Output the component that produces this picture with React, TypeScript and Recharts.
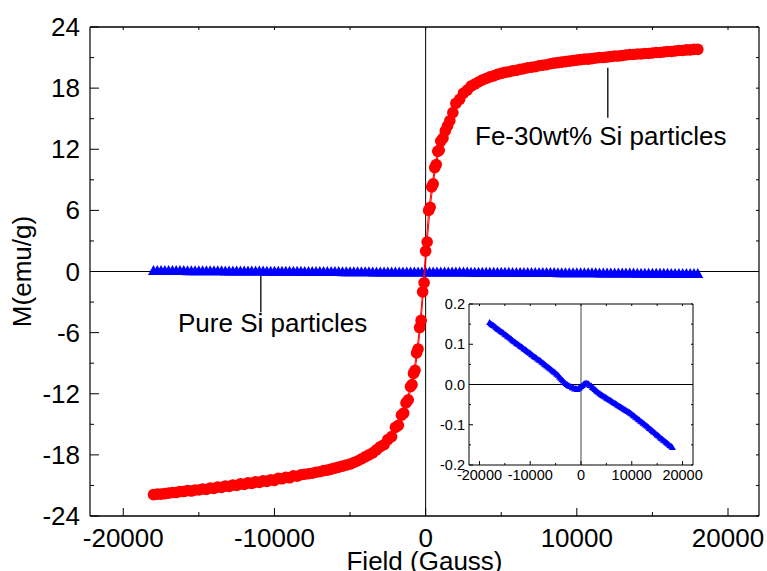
import { ReferenceLine, Scatter, ScatterChart, XAxis, YAxis } from "recharts";

const FONT = '"Liberation Sans", Arial, sans-serif';

// Fe-30wt% Si : descending branch (+18 kG -> -18 kG)
const fieldDown = [
  18000, 17500, 17000, 16500, 16000, 15500, 15000, 14500, 14000, 13500, 13000,
  12500, 12000, 11500, 11000, 10500, 10000, 9500, 9000, 8500, 8000, 7500, 7000,
  6500, 6000, 5500, 5000, 4500, 4000, 3500, 3000, 2500, 2000, 1600, 1300, 1000,
  800, 600, 400, 200, 0, -200, -400, -600, -800, -1000, -1300, -1600, -2000,
  -2500, -3000, -3500, -4000, -4500, -5000, -5500, -6000, -6500, -7000, -7500,
  -8000, -8500, -9000, -9500, -10000, -10500, -11000, -11500, -12000, -12500,
  -13000, -13500, -14000, -14500, -15000, -15500, -16000, -16500, -17000,
  -17500, -18000,
];
const momentDown = [
  21.8, 21.75, 21.7, 21.65, 21.6, 21.5, 21.45, 21.4, 21.35, 21.3, 21.2, 21.15,
  21.05, 21.0, 20.9, 20.85, 20.75, 20.65, 20.55, 20.45, 20.3, 20.2, 20.05, 19.9,
  19.75, 19.6, 19.45, 19.2, 18.95, 18.6, 18.2, 17.5, 16.5, 14.8, 13.8, 12.8,
  11.8, 10.2, 8.3, 6.0, 2.0, -2.0, -5.5, -8.0, -10.0, -11.3, -12.9, -14.1,
  -15.3, -16.5, -17.2, -17.8, -18.2, -18.6, -18.9, -19.1, -19.3, -19.5, -19.65,
  -19.8, -19.9, -20.1, -20.25, -20.35, -20.5, -20.6, -20.7, -20.8, -20.9, -21.0,
  -21.1, -21.2, -21.3, -21.4, -21.45, -21.55, -21.6, -21.7, -21.75, -21.85,
  -21.9,
];

// Fe-30wt% Si : ascending branch (-18 kG -> +18 kG)
const fieldUp = [
  -17750, -17250, -16750, -16250, -15750, -15250, -14750, -14250, -13750,
  -13250, -12750, -12250, -11750, -11250, -10750, -10250, -9750, -9250, -8750,
  -8250, -7750, -7250, -6750, -6250, -5750, -5250, -4750, -4250, -3750, -3250,
  -2750, -2250, -1800, -1450, -1150, -900, -700, -500, -300, -100, 100, 300,
  500, 700, 900, 1150, 1450, 1800, 2250, 2750, 3250, 3750, 4250, 4750, 5250,
  5750, 6250, 6750, 7250, 7750, 8250, 8750, 9250, 9750, 10250, 10750, 11250,
  11750, 12250, 12750, 13250, 13750, 14250, 14750, 15250, 15750, 16250, 16750,
  17250, 17750,
];
const momentUp = [
  -21.85, -21.8, -21.7, -21.6, -21.5, -21.45, -21.35, -21.25, -21.15, -21.05,
  -20.95, -20.85, -20.75, -20.65, -20.55, -20.45, -20.3, -20.2, -20.05, -19.95,
  -19.85, -19.7, -19.55, -19.4, -19.2, -19.0, -18.75, -18.4, -18.0, -17.5,
  -17.0, -16.2, -15.1, -13.9, -12.6, -11.1, -9.7, -7.6, -4.8, -1.1, 2.9, 6.3,
  8.6, 10.5, 11.9, 13.1, 14.3, 15.6, 16.9, 17.8, 18.4, 18.8, 19.1, 19.35, 19.55,
  19.7, 19.85, 20.0, 20.1, 20.25, 20.4, 20.5, 20.6, 20.7, 20.8, 20.85, 20.95,
  21.0, 21.1, 21.15, 21.25, 21.3, 21.35, 21.4, 21.5, 21.55, 21.6, 21.7, 21.75,
  21.8,
];

// Pure Si particles, first sweep
const fieldSi = [
  -18000, -17500, -17000, -16500, -16000, -15500, -15000, -14500, -14000,
  -13500, -13000, -12500, -12000, -11500, -11000, -10500, -10000, -9500, -9000,
  -8500, -8000, -7500, -7000, -6500, -6000, -5500, -5000, -4500, -4000, -3500,
  -3000, -2500, -2000, -1500, -1000, -500, 0, 500, 1000, 1500, 2000, 2500, 3000,
  3500, 4000, 4500, 5000, 5500, 6000, 6500, 7000, 7500, 8000, 8500, 9000, 9500,
  10000, 10500, 11000, 11500, 12000, 12500, 13000, 13500, 14000, 14500, 15000,
  15500, 16000, 16500, 17000, 17500, 18000,
];
const momentSi = [
  0.155, 0.15, 0.146, 0.14, 0.136, 0.131, 0.126, 0.121, 0.117, 0.111, 0.107,
  0.102, 0.097, 0.093, 0.088, 0.083, 0.079, 0.074, 0.069, 0.064, 0.06, 0.055,
  0.05, 0.045, 0.04, 0.034, 0.03, 0.024, 0.017, 0.01, 0.004, -0.001, -0.004,
  -0.007, -0.008, -0.008, -0.004, 0.002, 0.005, 0.003, -0.002, -0.008, -0.014,
  -0.019, -0.024, -0.028, -0.032, -0.036, -0.04, -0.044, -0.048, -0.052,
  -0.056, -0.06, -0.064, -0.068, -0.072, -0.077, -0.082, -0.087, -0.092,
  -0.097, -0.102, -0.108, -0.113, -0.118, -0.124, -0.129, -0.134, -0.139,
  -0.145, -0.15, -0.155,
];

// Pure Si particles, return sweep
const fieldSi2 = [
  -17750, -17250, -16750, -16250, -15750, -15250, -14750, -14250, -13750,
  -13250, -12750, -12250, -11750, -11250, -10750, -10250, -9750, -9250, -8750,
  -8250, -7750, -7250, -6750, -6250, -5750, -5250, -4750, -4250, -3750, -3250,
  -2750, -2250, -1750, -1250, -750, -250, 250, 750, 1250, 1750, 2250, 2750,
  3250, 3750, 4250, 4750, 5250, 5750, 6250, 6750, 7250, 7750, 8250, 8750, 9250,
  9750, 10250, 10750, 11250, 11750, 12250, 12750, 13250, 13750, 14250, 14750,
  15250, 15750, 16250, 16750, 17250, 17750,
];
const momentSi2 = [
  0.152, 0.148, 0.143, 0.138, 0.133, 0.129, 0.124, 0.119, 0.114, 0.109, 0.104,
  0.1, 0.095, 0.09, 0.086, 0.081, 0.076, 0.071, 0.067, 0.062, 0.057, 0.052,
  0.047, 0.042, 0.037, 0.032, 0.027, 0.02, 0.013, 0.006, 0.001, -0.003, -0.007,
  -0.01, -0.011, -0.007, -0.001, 0.004, 0.003, -0.001, -0.006, -0.011, -0.017,
  -0.022, -0.026, -0.03, -0.034, -0.038, -0.042, -0.046, -0.05, -0.054, -0.058,
  -0.062, -0.066, -0.07, -0.075, -0.08, -0.085, -0.09, -0.095, -0.1, -0.105,
  -0.11, -0.116, -0.121, -0.126, -0.132, -0.137, -0.142, -0.147, -0.152,
];

const xTicks = [-20000, -15000, -10000, -5000, 0, 5000, 10000, 15000, 20000];
const xLabels = [-20000, -10000, 0, 10000, 20000];
const yTicks = [-24, -21, -18, -15, -12, -9, -6, -3, 0, 3, 6, 9, 12, 15, 18, 21, 24];
const yLabels = [-24, -18, -12, -6, 0, 6, 12, 18, 24];
const insetYTicks = [-0.2, -0.15, -0.1, -0.05, 0, 0.05, 0.1, 0.15, 0.2];
const insetYLabels = [-0.2, -0.1, 0, 0.1, 0.2];

const feLoop = [
  ...fieldDown.map((h, i) => ({ h, m: momentDown[i] })),
  ...fieldUp.map((h, i) => ({ h, m: momentUp[i] })),
];
const siData = [
  ...fieldSi.map((h, i) => ({ h, m: momentSi[i] })),
  ...fieldSi2.map((h, i) => ({ h, m: momentSi2[i] })),
];

// main plot box
const W = 767;
const H = 571;
const PL = 90;
const PR = 759;
const PT = 27;
const PB = 516;
const X_DOM: [number, number] = [-22200, 22050];

// inset box (local coords)
const IL = 39;
const IR = 263;
const IT = 14;
const IB = 175;
const IX_DOM: [number, number] = [-22060, 22060];

const MainXTick = (props: any) => {
  const { x, payload } = props;
  const v = payload.value;
  const major = xLabels.includes(v);
  return (
    <g>
      <line x1={x} x2={x} y1={PB} y2={PB - (major ? 8 : 4)} stroke="#000" />
      <line x1={x} x2={x} y1={PT} y2={PT + 3} stroke="#000" />
      {major && (
        <text x={x} y={547} textAnchor="middle" fontSize={26} fontFamily={FONT} fill="#000">
          {String(v)}
        </text>
      )}
    </g>
  );
};

const MainYTick = (props: any) => {
  const { y, payload } = props;
  const v = payload.value;
  const major = yLabels.includes(v);
  return (
    <g>
      <line x1={PL} x2={PL + (major ? 9 : 4)} y1={y} y2={y} stroke="#000" />
      <line x1={PR} x2={PR - 3} y1={y} y2={y} stroke="#000" />
      {major && (
        <text x={80} y={y + 9} textAnchor="end" fontSize={26} fontFamily={FONT} fill="#000">
          {String(v)}
        </text>
      )}
    </g>
  );
};

const InsetXTick = (props: any) => {
  const { x, payload } = props;
  const v = payload.value;
  const major = xLabels.includes(v);
  return (
    <g>
      <line x1={x} x2={x} y1={IB} y2={IB - (major ? 4 : 2)} stroke="#000" />
      <line x1={x} x2={x} y1={IT} y2={IT + 2} stroke="#000" />
      {major && (
        <text x={x} y={190} textAnchor="middle" fontSize={14.5} fontFamily={FONT} fill="#000">
          {String(v)}
        </text>
      )}
    </g>
  );
};

const InsetYTick = (props: any) => {
  const { y, payload } = props;
  const v = payload.value;
  const major = insetYLabels.includes(v);
  return (
    <g>
      <line x1={IL} x2={IL + (major ? 4 : 2)} y1={y} y2={y} stroke="#000" />
      <line x1={IR} x2={IR - 2} y1={y} y2={y} stroke="#000" />
      {major && (
        <text x={35} y={y + 5} textAnchor="end" fontSize={14.5} fontFamily={FONT} fill="#000">
          {v.toFixed(1)}
        </text>
      )}
    </g>
  );
};

const RedDot = (props: any) => <circle cx={props.cx} cy={props.cy} r={5.8} fill="#ff0000" />;

const BlueTri = (w: number, h: number) => (props: any) => {
  const { cx, cy } = props;
  return (
    <polygon
      points={`${cx},${cy - h / 2} ${cx + w / 2},${cy + h / 2} ${cx - w / 2},${cy + h / 2}`}
      fill="#0000ff"
    />
  );
};

export default function App() {
  return (
    <div style={{ position: "absolute", left: 0, top: 0, width: W, height: H, background: "#fff" }}>
      <ScatterChart width={W} height={H} margin={{ top: PT, right: W - PR, bottom: 0, left: 0 }}>
        <XAxis
          type="number"
          dataKey="h"
          domain={X_DOM}
          ticks={xTicks}
          interval={0}
          height={H - PB}
          allowDataOverflow
          tickLine={false}
          tick={<MainXTick />}
          axisLine={{ stroke: "#000", strokeWidth: 1.3 }}
        />
        <YAxis
          type="number"
          dataKey="m"
          domain={[-24, 24]}
          ticks={yTicks}
          interval={0}
          width={PL}
          allowDataOverflow
          tickLine={false}
          tick={<MainYTick />}
          axisLine={{ stroke: "#333", strokeWidth: 1.5 }}
        />
        <ReferenceLine y={24} stroke="#000" strokeWidth={1.3} />
        <ReferenceLine x={X_DOM[1]} stroke="#333" strokeWidth={1.5} />
        <ReferenceLine x={0} stroke="#000" strokeWidth={1} />
        <ReferenceLine y={0} stroke="#000" strokeWidth={1} />
        <ReferenceLine segment={[{ x: 12050, y: 20 }, { x: 12050, y: 15.1 }]} stroke="#000" strokeWidth={1.3} />
        <ReferenceLine segment={[{ x: -10900, y: 0 }, { x: -10900, y: -4 }]} stroke="#000" strokeWidth={1.3} />
        <Scatter data={siData} shape={BlueTri(11, 10)} isAnimationActive={false} />
        <Scatter
          data={feLoop}
          shape={RedDot}
          line={{ stroke: "#ff0000", strokeWidth: 1 }}
          isAnimationActive={false}
        />
      </ScatterChart>

      <div style={{ position: "absolute", left: 430, top: 290 }}>
        <ScatterChart width={273} height={200} margin={{ top: IT, right: 10, bottom: 0, left: 0 }}>
          <XAxis
            type="number"
            dataKey="h"
            domain={IX_DOM}
            ticks={xTicks}
            interval={0}
            height={25}
            allowDataOverflow
            tickLine={false}
            tick={<InsetXTick />}
            axisLine={{ stroke: "#000" }}
          />
          <YAxis
            type="number"
            dataKey="m"
            domain={[-0.2, 0.2]}
            ticks={insetYTicks}
            interval={0}
            width={IL}
            allowDataOverflow
            tickLine={false}
            tick={<InsetYTick />}
            axisLine={{ stroke: "#000" }}
          />
          <ReferenceLine y={0.2} stroke="#000" />
          <ReferenceLine x={IX_DOM[1]} stroke="#000" />
          <ReferenceLine x={0} stroke="#444" />
          <ReferenceLine y={0} stroke="#000" />
          <Scatter data={siData} shape={BlueTri(7, 6)} isAnimationActive={false} />
        </ScatterChart>
      </div>

      <svg
        width={W}
        height={H}
        style={{ position: "absolute", left: 0, top: 0, pointerEvents: "none" }}
        fontFamily={FONT}
        fontSize={26}
        fill="#000"
      >
        <text x={475} y={145}>Fe-30wt% Si particles</text>
        <text x={178} y={332}>Pure Si particles</text>
        <text x={(PL + PR) / 2} y={570} textAnchor="middle">Field (Gauss)</text>
        <text x={31} y={(PT + PB) / 2} textAnchor="middle" transform={`rotate(-90 31 ${(PT + PB) / 2})`}>
          M(emu/g)
        </text>
      </svg>
    </div>
  );
}
